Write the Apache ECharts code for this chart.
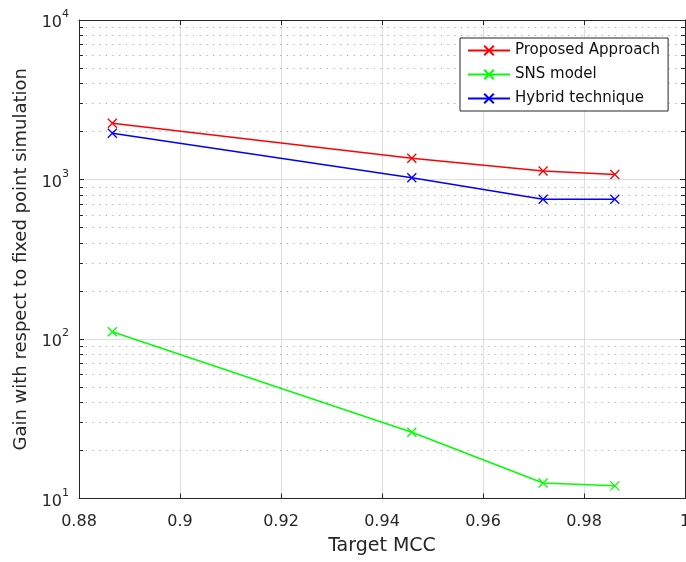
<!DOCTYPE html>
<html>
<head>
<meta charset="utf-8">
<script src="https://cdn.jsdelivr.net/npm/echarts@6/dist/echarts.min.js"></script>
<style>html,body{margin:0;padding:0;background:#fff}#c{width:686px;height:562px}</style>
</head>
<body>
<div id="c"></div>
<script>
// ---- data ----
var targetMCC = [0.8866, 0.9459, 0.9719, 0.9861];
var proposedApproach = [2250, 1360, 1130, 1075];
var snsModel = [111, 26, 12.5, 12];
var hybridTechnique = [1950, 1025, 752, 752];
var seriesNames = ['Proposed Approach', 'SNS model', 'Hybrid technique'];
var xTickMin = 0.88, xTickMax = 1, xTickStep = 0.02;
var yMin = 10, yMax = 10000;
var minorValues = [20,30,40,50,60,70,80,90,200,300,400,500,600,700,800,900,2000,3000,4000,5000,6000,7000,8000,9000];

var FONT = 'DejaVu Sans';
var AX = '#262626';
var X_PATH = 'path://M0,0L10,10M10,0L0,10';

function pairs(xs, ys){ return xs.map(function(x,i){ return [x, ys[i]]; }); }

function mkSeries(name, ys, color){
  return {
    name: name, type: 'line', data: pairs(targetMCC, ys),
    color: color,
    symbol: X_PATH, symbolSize: 9, showSymbol: true,
    lineStyle: {color: color, width: 1.5},
    itemStyle: {color: color, borderColor: color, borderWidth: 1.3},
    emphasis: {disabled: true}, z: 5
  };
}

var minorGrid = minorValues.map(function(v){ return {yAxis: v}; });
var tickLen = 0.0008;
var minorTicks = [];
minorValues.forEach(function(v){
  minorTicks.push([{coord:[xTickMin, v]},{coord:[xTickMin + tickLen, v]}]);
  minorTicks.push([{coord:[xTickMax - tickLen, v]},{coord:[xTickMax, v]}]);
});

var chart = echarts.init(document.getElementById('c'), null, {renderer:'canvas'});
chart.setOption({
  animation: false,
  backgroundColor: '#fff',
  textStyle: {fontFamily: FONT, color: AX},
  grid: {left: 79, top: 20, right: 1, bottom: 63.5, containLabel: false, outerBoundsMode: 'none'},
  legend: {
    data: seriesNames, orient: 'vertical', left: 460, top: 38,
    padding: [5, 8, 5, 7], itemGap: 9, itemWidth: 42, itemHeight: 12,
    backgroundColor: '#fff', borderColor: AX, borderWidth: 1, borderRadius: 0,
    textStyle: {fontFamily: FONT, fontSize: 15, color: '#111', lineHeight: 15},
    selectedMode: false, z: 10
  },
  xAxis: [{
    type: 'value', min: xTickMin, max: xTickMax, interval: xTickStep,
    name: 'Target MCC', nameLocation: 'middle', nameGap: 38,
    nameTextStyle: {fontFamily: FONT, fontSize: 19, color: AX},
    axisLine: {show: true, onZero: false, lineStyle: {color: AX, width: 1}},
    axisTick: {show: true, inside: true, length: 5, lineStyle: {color: AX}},
    axisLabel: {fontFamily: FONT, fontSize: 16, color: AX, margin: 15, hideOverlap: false,
      formatter: function(v){ return String(+v.toFixed(2)); }},
    splitLine: {show: true, lineStyle: {color: '#dedede', width: 1}}
  },{
    type: 'value', position: 'top', min: xTickMin, max: xTickMax, interval: xTickStep,
    axisLine: {show: true, onZero: false, lineStyle: {color: AX, width: 1}},
    axisTick: {show: true, inside: true, length: 5, lineStyle: {color: AX}},
    axisLabel: {show: false}, splitLine: {show: false}
  }],
  yAxis: [{
    type: 'log', logBase: 10, min: yMin, max: yMax,
    name: 'Gain with respect to fixed point simulation', nameLocation: 'middle', nameGap: 44,
    nameTextStyle: {fontFamily: FONT, fontSize: 18, color: AX},
    axisLine: {show: true, onZero: false, lineStyle: {color: AX, width: 1}},
    axisTick: {show: true, inside: true, length: 5, lineStyle: {color: AX}},
    axisLabel: {margin: 10, color: AX,
      formatter: function(v){ return '{b|10}{s|' + Math.round(Math.log10(v)) + '}'; },
      rich: {b: {fontFamily: FONT, fontSize: 16, color: AX, lineHeight: 22, verticalAlign: 'bottom'},
             s: {fontFamily: FONT, fontSize: 11, color: AX, lineHeight: 22, verticalAlign: 'top'}}},
    splitLine: {show: true, lineStyle: {color: '#dedede', width: 1}}
  },{
    type: 'log', logBase: 10, min: yMin, max: yMax, position: 'right',
    axisLine: {show: true, onZero: false, lineStyle: {color: AX, width: 1}},
    axisTick: {show: true, inside: true, length: 5, lineStyle: {color: AX}},
    axisLabel: {show: false}, splitLine: {show: false}
  }],
  series: [
    {
      name: 'grid-helper', type: 'line', data: [], silent: true, z: 1,
      markLine: {silent: true, symbol: ['none','none'], animation: false,
        label: {show: false},
        lineStyle: {color: '#a8a8a8', width: 1.2, type: [1.2, 5.5]},
        emphasis: {disabled: true},
        data: minorGrid}
    },
    {
      name: 'tick-helper', type: 'line', data: [], silent: true, z: 2,
      markLine: {silent: true, symbol: ['none','none'], animation: false,
        label: {show: false},
        lineStyle: {color: AX, width: 1, type: 'solid'},
        emphasis: {disabled: true},
        data: minorTicks}
    },
    mkSeries(seriesNames[0], proposedApproach, '#ff0000'),
    mkSeries(seriesNames[1], snsModel, '#00ff00'),
    mkSeries(seriesNames[2], hybridTechnique, '#0000ff')
  ]
});
</script>
</body>
</html>
